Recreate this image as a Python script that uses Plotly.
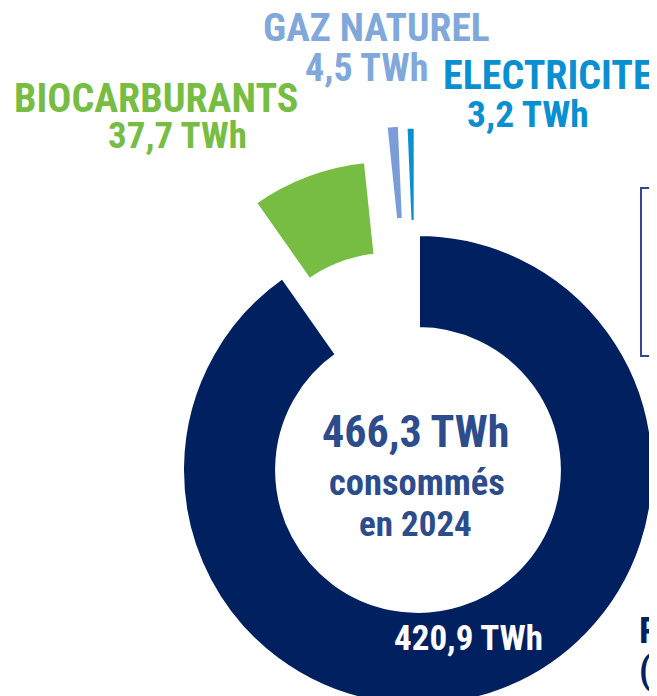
import plotly.graph_objects as go

# ---- data ----
categories = ["PRODUITS PETROLIERS", "BIOCARBURANTS", "GAZ NATUREL", "ELECTRICITE"]
values_twh = [420.9, 37.7, 4.5, 3.2]
value_labels = ["420,9 TWh", "37,7 TWh", "4,5 TWh", "3,2 TWh"]
label_lines = ["(CARBURANTS FOSSILES)", "", "", ""]
total_label = "466,3 TWh"
center_lines = ["consommés", "en 2024"]

# ---- styles ----
colors = ["#002060", "#77bd43", "#7b9dd7", "#0a8fd0"]
label_colors = ["#002060", "#77bd43", "#80a8da", "#0a8fd0"]
pulls = [0, 0.336, 0.465, 0.455]
FONT = "Roboto Condensed, Liberation Sans, sans-serif"

OFF = 8  # page body margin
W, H = 780, 830
cx, cy, R = 418 - OFF, 470 - OFF, 236
half = R * (1 + max(pulls))
dom_x = [(cx - half) / W, (cx + half) / W]
dom_y = [1 - (cy + half) / H, 1 - (cy - half) / H]


def px(x):
    return (x - OFF) / W


def py(y):
    return 1 - (y - OFF) / H


fig = go.Figure(go.Pie(
    labels=categories, values=values_twh, sort=False, direction="clockwise",
    rotation=0, hole=0.597, pull=pulls, textinfo="none", hoverinfo="label+value",
    marker=dict(colors=colors, line=dict(color="white", width=4)),
    domain=dict(x=dom_x, y=dom_y), showlegend=False,
))

ann = []


def add(text, x, y, size, color, xanchor="center"):
    ann.append(dict(text=text, x=px(x), y=py(y), xref="paper", yref="paper",
                    showarrow=False, xanchor=xanchor, yanchor="middle",
                    font=dict(family=FONT, size=size, color=color, weight="bold")))


# center
add(total_label, 415, 432, 44, "#2c4c8c")
add(center_lines[0], 417, 482, 36.5, "#2c4c8c")
add(center_lines[1], 415, 524, 35, "#2c4c8c")
# slice value inside ring
add(value_labels[0], 468, 638, 35, "white")
# outside labels
add(categories[1], 156, 98, 40, label_colors[1])
add(value_labels[1], 177, 136, 37, label_colors[1])
add(categories[2], 376, 27, 39.5, label_colors[2])
add(value_labels[2], 366, 68, 38, label_colors[2])
add(categories[3], 548, 76, 40, label_colors[3])
add(value_labels[3], 528, 114, 37.5, label_colors[3])
add(categories[0], 637, 630, 37, label_colors[0], xanchor="left")
add(label_lines[0], 637, 670, 37, label_colors[0], xanchor="left")

fig.update_layout(
    width=W, height=H, margin=dict(l=0, r=0, t=0, b=0),
    paper_bgcolor="white", plot_bgcolor="white",
    annotations=ann,
    shapes=[dict(type="rect", xref="paper", yref="paper",
                 x0=px(641), x1=px(790), y0=py(356), y1=py(188),
                 line=dict(color="#34449a", width=2), fillcolor="rgba(0,0,0,0)")],
)

fig.write_html("out.html")
